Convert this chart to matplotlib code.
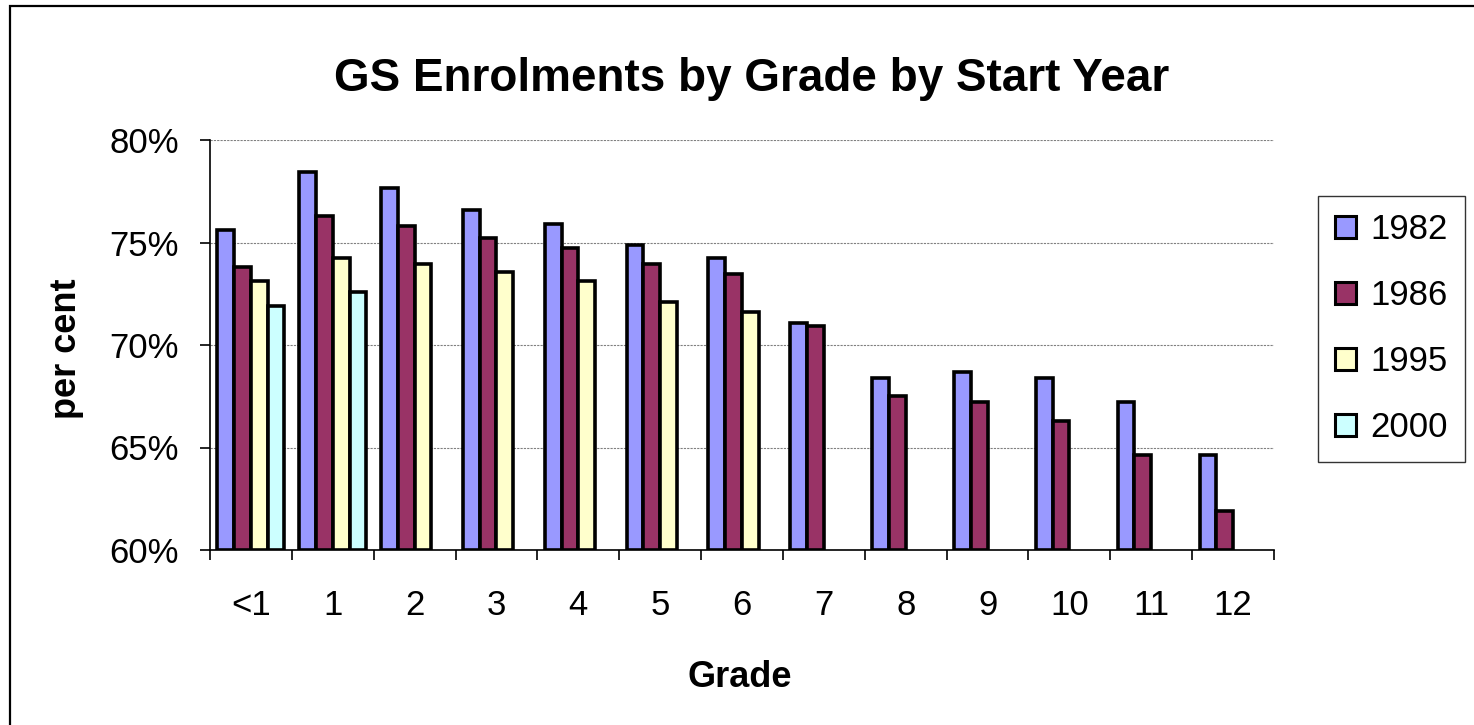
import numpy as np
import matplotlib
matplotlib.use("Agg")
import matplotlib.pyplot as plt
from matplotlib.ticker import FixedLocator, FuncFormatter
from matplotlib.patches import Rectangle

plt.rcParams["font.family"] = ["Liberation Sans", "DejaVu Sans"]

# DATA (per cent enrolled)
grades = ["<1", "1", "2", "3", "4", "5", "6", "7", "8", "9", "10", "11", "12"]
years = ["1982", "1986", "1995", "2000"]
y1982 = [75.6, 78.45, 77.65, 76.6, 75.9, 74.9, 74.25, 71.05, 68.4, 68.7, 68.4, 67.2, 64.65]
y1986 = [73.8, 76.3, 75.8, 75.2, 74.75, 73.95, 73.45, 70.95, 67.5, 67.2, 66.3, 64.65, 61.9]
y1995 = [73.1, 74.25, 73.95, 73.55, 73.1, 72.1, 71.6] + [np.nan] * 6
y2000 = [71.9, 72.6] + [np.nan] * 11
colors = ["#9999FF", "#993366", "#FFFFCC", "#CCFFFF"]

series = [y1982, y1986, y1995, y2000]

W, H = 1474, 725
fig = plt.figure(figsize=(W / 100, H / 100), dpi=100)
ax = fig.add_axes([210 / W, 1 - 550 / H, (1274 - 210) / W, (550 - 140) / H])

x = np.arange(len(grades))
bw = 0.205
for i, (vals, col, lab) in enumerate(zip(series, colors, years)):
    ax.bar(x + (i - 1.5) * bw, np.array(vals) - 60, bottom=60, width=bw,
           color=col, edgecolor="black", linewidth=2.6, label=lab, zorder=3)

ax.set_xlim(-0.5, len(grades) - 0.5)
ax.set_ylim(60, 80)

# y axis
ax.set_yticks([60, 65, 70, 75, 80])
ax.yaxis.set_major_formatter(FuncFormatter(lambda v, p: f"{v:.0f}%"))
ax.tick_params(axis="y", direction="out", length=7.5, width=1.2, pad=15, labelsize=25)
ax.yaxis.grid(True, color="#808080", linestyle=(0, (2, 1)), linewidth=0.8, zorder=0)

# x axis: ticks at category boundaries, labels at centres
ax.xaxis.set_major_locator(FixedLocator(np.arange(-0.5, len(grades), 1.0)))
ax.xaxis.set_major_formatter(FuncFormatter(lambda v, p: ""))
ax.xaxis.set_minor_locator(FixedLocator(x))
ax.set_xticklabels(grades, minor=True)
ax.tick_params(axis="x", which="major", direction="out", length=7.5, width=1.2)
ax.tick_params(axis="x", which="minor", length=0, pad=28, labelsize=25)

for s in ["top", "right"]:
    ax.spines[s].set_visible(False)
for s in ["left", "bottom"]:
    ax.spines[s].set_linewidth(1.2)
ax.set_axisbelow(True)

# titles
fig.text(752 / W, 1 - 91 / H, "GS Enrolments by Grade by Start Year",
         ha="center", va="baseline", fontsize=33, fontweight="bold")
fig.text(740 / W, 1 - 687 / H, "Grade", ha="center", va="baseline",
         fontsize=26, fontweight="bold")
fig.text(66 / W, 1 - 349 / H, "per cent", ha="center", va="center",
         rotation=90, fontsize=26, fontweight="bold")

# legend
leg = ax.legend(loc="upper left", bbox_to_anchor=(1318 / W, 1 - 196 / H),
                bbox_transform=fig.transFigure, fontsize=25, frameon=True,
                fancybox=False, handlelength=0.6, handleheight=0.6,
                handletextpad=0.4, labelspacing=0.95, borderpad=0.5,
                borderaxespad=0)
leg.get_frame().set_edgecolor("black")
leg.get_frame().set_linewidth(1.0)
for h in leg.legend_handles:
    h.set_linewidth(2.2)

# chart-area border (only left/top visible in the original)
fig.patches.append(Rectangle((10 / W, -0.05), 1.2, 1 - 6 / H + 0.05,
                             transform=fig.transFigure, fill=False,
                             edgecolor="black", linewidth=1.6))

fig.savefig("out.png", dpi=100)
